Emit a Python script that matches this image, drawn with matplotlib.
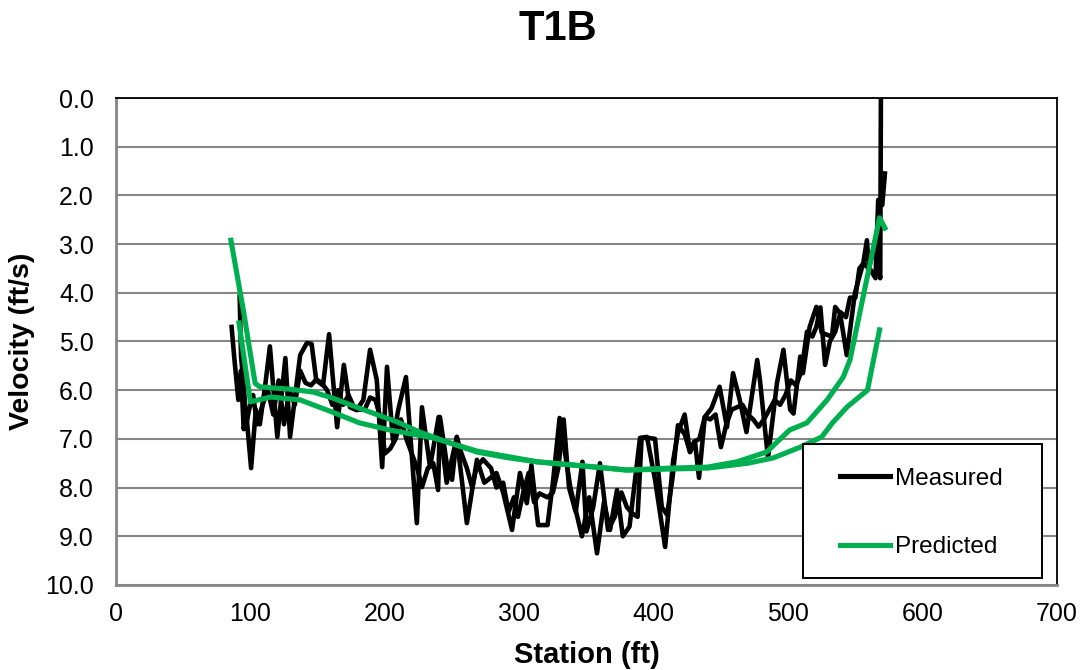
import matplotlib
matplotlib.use('Agg')
import matplotlib.pyplot as plt
from matplotlib.patches import Rectangle
from matplotlib.lines import Line2D

plt.rcParams['font.family'] = ['Liberation Sans', 'DejaVu Sans']

# Measured velocity, first pass (left bank -> right bank)
meas_a_x = [86, 88, 91, 93, 95, 97, 100.5, 104, 107, 111, 114.5, 120, 126, 129.5, 137, 142,
            145.5, 149, 154, 158.5, 164.5, 169.5, 174, 179, 184, 189, 194, 198, 201.6, 206,
            210, 215.7, 223.8, 227.6, 233.6, 240, 246, 253.5, 261, 268.5, 274, 283, 288,
            294.6, 300.5, 305.6, 309, 314, 321, 325, 330, 338, 346.6, 352, 357.8, 363,
            367.5, 372.7, 377, 382, 389.8, 395, 401, 408.5, 414.5, 418, 423, 427, 430.7,
            433.7, 438, 443, 449, 454.5, 459, 464, 469, 477, 479, 485, 491.7, 496.5, 501.5,
            504, 509, 511, 516, 521, 525, 532.6, 535, 538.6, 543.6, 549.7, 556, 558.6, 560,
            565, 567, 570, 572]
meas_a_v = [4.70, 5.34, 6.2, 5.6, 6.8, 6.5, 7.6, 6.4, 6.7, 5.9, 5.1, 6.96, 5.34, 6.96, 5.28, 5.03,
            5.05, 5.8, 5.9, 4.85, 6.76, 5.48, 6.35, 6.41, 6.2, 5.17, 5.79, 7.58, 5.52, 7.02,
            6.4, 5.73, 8.73, 6.35, 7.58, 6.55, 7.9, 6.96, 8.73, 7.43, 7.9, 7.7, 8.1,
            8.87, 7.7, 8.32, 7.54, 8.77, 8.77, 7.9, 6.57, 8.0, 9.0, 8.2, 9.35, 8.3,
            8.87, 8.05, 9.0, 8.8, 6.98, 6.96, 7.84, 9.22, 7.44, 6.88, 6.5, 7.27, 7.06,
            7.8, 6.55, 6.37, 5.93, 6.76, 5.65, 6.2, 6.86, 5.38, 5.79, 7.39, 5.85, 5.17, 6.4,
            6.48, 5.31, 5.65, 4.7, 4.29, 4.82, 4.9, 4.29, 4.42, 5.28, 4.0, 3.37, 2.92, 3.47,
            3.7, 2.09, 2.2, 1.55]

# Measured velocity, return pass (right bank -> left bank)
meas_b_x = [569, 568.5, 566, 563, 560, 556, 553, 550, 546, 543, 539, 535, 531, 527.5, 524, 521,
            518, 514, 510, 506, 502, 498, 494, 490, 486, 482, 478, 474, 470, 466, 462, 458,
            454, 450, 446, 442, 438, 434, 430, 427, 423, 418, 414, 410, 406, 401, 396, 391,
            388, 384, 380, 376, 371, 366, 360, 355, 350, 347, 342, 337, 333, 329, 325, 321,
            315, 311, 307, 303, 299, 296, 292, 288, 283, 279, 273, 268, 265, 261, 257, 253.5,
            250, 246, 241, 239.6, 236, 232, 227.6, 224, 220, 216, 212, 208, 204, 200, 197,
            193, 189, 185, 181, 177, 173, 169, 165, 161, 157, 153, 149, 145, 141, 137, 133,
            129, 125, 121, 117, 113, 109, 105, 102, 99, 97, 95, 93, 92]
meas_b_v = [0.0, 3.7, 3.2, 3.18, 3.5, 3.4, 3.5, 4.1, 4.1, 4.5, 4.4, 4.8, 5.0, 5.48, 4.3, 4.7,
            4.9, 4.8, 5.6, 5.9, 5.8, 6.1, 6.3, 6.2, 6.4, 6.6, 6.75, 6.6, 6.5, 6.3, 6.35, 6.4,
            6.7, 7.17, 6.5, 6.6, 6.55, 7.0, 7.06, 7.27, 6.9, 6.72, 7.8, 8.56, 8.4, 7.0, 6.98, 6.98,
            8.6, 8.53, 8.4, 8.1, 8.6, 8.87, 7.5, 8.4, 8.9, 7.47, 8.5, 8.0, 6.6, 7.6, 8.1, 8.2,
            8.12, 8.3, 7.7, 8.1, 8.6, 8.2, 8.5, 7.9, 8.0, 7.6, 7.42, 7.6, 8.0, 7.6, 7.3, 6.96,
            7.84, 7.5, 6.55, 8.05, 7.5, 7.6, 7.99, 7.6, 7.3, 7.0, 6.6, 7.0, 7.2, 7.3, 6.6,
            6.2, 6.15, 6.4, 6.4, 6.35, 6.1, 6.3, 6.0, 6.3, 6.0, 5.85, 5.78, 5.9, 5.85, 5.6, 6.3,
            6.0, 6.7, 5.8, 6.5, 6.0, 6.3, 6.7, 6.1, 6.4, 6.7, 5.9, 5.3, 4.08]

# Predicted velocity, both passes
pred_a_x = [85.5, 95, 103.5, 107, 115, 130, 147, 161, 181, 209, 226, 245, 268.5, 290, 313,
            350, 380, 412, 440, 462, 484, 501, 514, 529, 541, 546, 568, 572]
pred_a_v = [2.92, 4.4, 5.86, 5.93, 5.95, 5.98, 6.04, 6.16, 6.37, 6.65, 6.86, 7.05, 7.27, 7.38, 7.47,
            7.56, 7.64, 7.6, 7.58, 7.47, 7.27, 6.82, 6.67, 6.2, 5.73, 5.38, 2.46, 2.67]

pred_b_x = [91.5, 100, 115, 137, 161, 181, 204, 236, 268.5, 313, 380, 440, 470, 489, 509,
            525, 533, 544, 559, 568]
pred_b_v = [4.62, 6.24, 6.14, 6.2, 6.45, 6.67, 6.82, 6.98, 7.25, 7.47, 7.64, 7.6, 7.5, 7.39, 7.17,
            6.96, 6.67, 6.34, 6.0, 4.76]

x_ticks = [0, 100, 200, 300, 400, 500, 600, 700]
y_ticks = [0, 1, 2, 3, 4, 5, 6, 7, 8, 9, 10]

black = '#000000'
green = '#00B050'
grey = '#868686'

fig = plt.figure(figsize=(10.81, 6.70), dpi=100)
ax = fig.add_axes([0.1073, 0.1269, 0.8705, 0.7268])

ax.plot(meas_a_x, meas_a_v, color=black, lw=3.3, solid_joinstyle='round', zorder=3)
ax.plot(meas_b_x, meas_b_v, color=black, lw=3.3, solid_joinstyle='round', zorder=3)
ax.plot(pred_a_x, pred_a_v, color=green, lw=3.7, solid_joinstyle='round', zorder=3)
ax.plot(pred_b_x, pred_b_v, color=green, lw=3.7, solid_joinstyle='round', zorder=3)

ax.set_xlim(0, 700)
ax.set_ylim(10, 0)
ax.set_xticks(x_ticks)
ax.set_yticks(y_ticks)
ax.set_yticklabels([f'{v:.1f}' for v in y_ticks])
ax.tick_params(axis='both', length=0, labelsize=18, colors='black')
ax.tick_params(axis='y', pad=16)
ax.tick_params(axis='x', pad=12)

ax.grid(axis='y', color=grey, lw=1.5, zorder=1)
ax.set_axisbelow(True)
for side in ['left', 'bottom']:
    ax.spines[side].set_color(grey)
    ax.spines[side].set_linewidth(2)
for side in ['top', 'right']:
    ax.spines[side].set_color(black)
    ax.spines[side].set_linewidth(1.3)

ax.set_xlabel('Station (ft)', fontsize=21, fontweight='bold', va='center')
ax.xaxis.set_label_coords(0.5, -0.144)
ax.set_ylabel('Velocity (ft/s)', fontsize=20.5, fontweight='bold', va='center')
ax.yaxis.set_label_coords(-0.1, 0.5)

fig.text(0.516, 0.957, 'T1B', fontsize=30, fontweight='bold', ha='center', va='center')

# legend box
ax.add_patch(Rectangle((0.730, 0.0144), 0.254, 0.275, transform=ax.transAxes,
                       facecolor='white', edgecolor=black, lw=1.4, zorder=4))
handles = [Line2D([], [], color=black, lw=3.7), Line2D([], [], color=green, lw=3.7)]
leg = ax.legend(handles, ['Measured', 'Predicted'], loc='center left',
                bbox_to_anchor=(0.7694, 0.148), frameon=False, fontsize=17.5,
                handlelength=2.05, handletextpad=0.2, labelspacing=1.92, borderpad=0,
                borderaxespad=0)
leg.set_zorder(5)

fig.savefig('out.png', dpi=100)
